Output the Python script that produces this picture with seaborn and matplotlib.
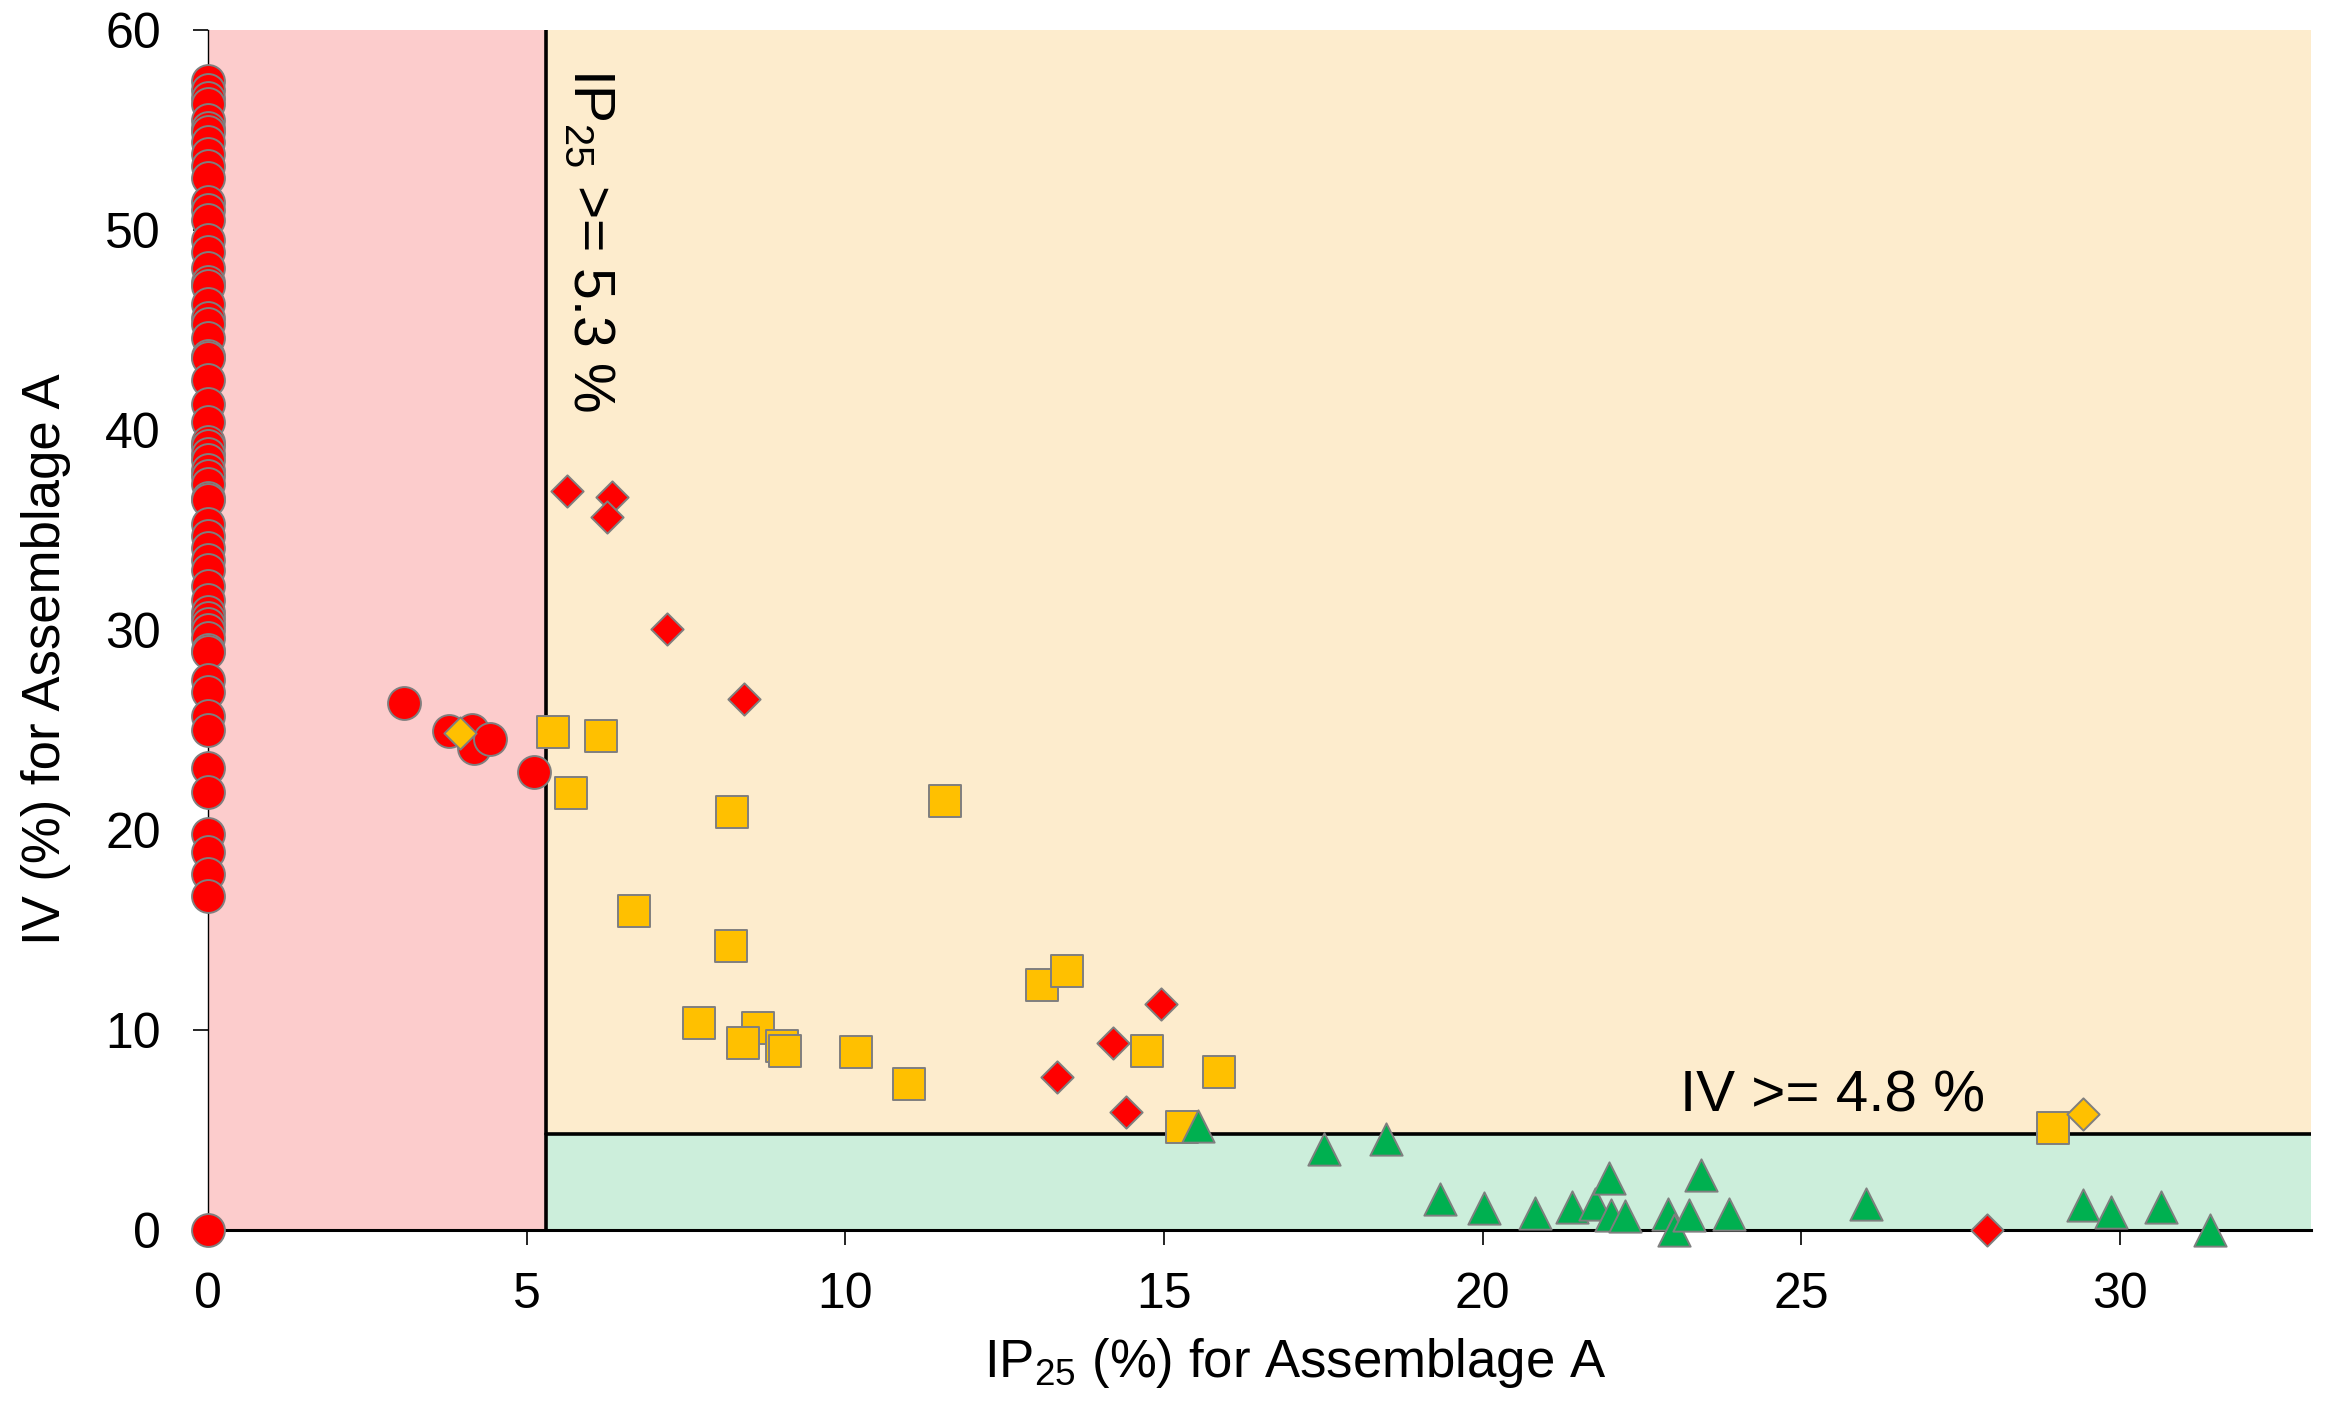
import matplotlib
matplotlib.use("Agg")
import matplotlib.pyplot as plt
import seaborn as sns
import pandas as pd

# Limites de classificação
ip25_cut = 5.3
iv_cut = 4.8

# Círculos vermelhos (IP25 = 0 na maioria)
circle_x = [0.0] * 62 + [3.08, 3.78, 4.15, 4.18, 4.43, 5.12]
circle_y = [57.45, 57.0, 56.6, 56.3, 55.5, 55.1, 54.9, 54.4, 53.8, 53.2,
            52.6, 51.4, 51.0, 50.5, 49.5, 48.9, 48.1, 47.4, 47.2, 46.3,
            45.6, 45.3, 44.6, 43.7, 43.6, 42.5, 41.3, 40.4, 39.4, 39.2,
            38.8, 38.5, 38.0, 37.7, 37.3, 36.6, 36.5, 35.3, 34.7, 34.1,
            33.5, 33.0, 32.2, 31.5, 30.9, 30.6, 30.3, 30.0, 29.6, 29.0,
            28.9, 27.5, 26.9, 25.7, 25.0, 23.1, 21.9, 19.8, 18.9, 17.8,
            16.7, 0.0,
            26.35, 24.95, 25.0, 24.1, 24.55, 22.9]

# Quadrados amarelos
square_x = [5.42, 6.16, 5.70, 8.23, 11.57, 6.69, 8.21, 7.70, 8.63, 8.40,
            9.0, 9.06, 10.17, 11.0, 13.08, 13.48, 14.73, 15.87, 15.29, 28.95]
square_y = [24.9, 24.7, 21.85, 20.9, 21.45, 15.95, 14.2, 10.37, 10.1, 9.37,
            9.2, 8.97, 8.92, 7.3, 12.27, 12.97, 8.97, 7.9, 5.17, 5.1]

# Losangos vermelhos
red_diamond_x = [5.63, 6.34, 6.26, 7.21, 8.41, 14.96, 14.2, 13.32, 14.4, 27.91]
red_diamond_y = [36.97, 36.65, 35.65, 30.05, 26.55, 11.3, 9.35, 7.67, 5.92, 0.0]

# Losangos amarelos
gold_diamond_x = [3.95, 29.42]
gold_diamond_y = [24.85, 5.8]

# Triângulos verdes
triangle_x = [15.53, 17.52, 18.49, 19.34, 20.02, 20.83, 21.41, 21.77, 21.98, 22.02,
              22.24, 22.91, 23.01, 23.24, 23.43, 23.86, 26.01, 29.43, 29.86, 30.64,
              31.42]
triangle_y = [5.2, 4.05, 4.55, 1.55, 1.1, 0.85, 1.15, 1.3, 2.6, 0.75,
              0.7, 0.8, 0.0, 0.77, 2.75, 0.8, 1.3, 1.25, 0.9, 1.17,
              0.0]

x_ticks = [0, 5, 10, 15, 20, 25, 30]
y_ticks = [0, 10, 20, 30, 40, 50, 60]

sns.set_style("ticks")
plt.rcParams['font.family'] = ['Liberation Sans', 'DejaVu Sans']
plt.rcParams['mathtext.fontset'] = 'custom'
plt.rcParams['mathtext.rm'] = 'Liberation Sans'
plt.rcParams['mathtext.it'] = 'Liberation Sans:italic'
plt.rcParams['text.color'] = 'black'
plt.rcParams['axes.labelcolor'] = 'black'

fig = plt.figure(figsize=(23.27, 14.02), dpi=100)
ax = fig.add_axes([0.0894, 0.1227, 0.9037, 0.8559])
ax.set_xlim(0, 33)
ax.set_ylim(0, 60)

# Regiões de fundo
ax.axvspan(0, ip25_cut, color='#FCCCCC', lw=0, zorder=0)
ax.fill_between([ip25_cut, 33], iv_cut, 60, color='#FDECCD', lw=0, zorder=0)
ax.fill_between([ip25_cut, 33], 0, iv_cut, color='#CCEEDB', lw=0, zorder=0)
ax.axvline(ip25_cut, color='black', lw=2.6, zorder=1)
ax.plot([ip25_cut, 33], [iv_cut, iv_cut], color='black', lw=2.6, zorder=1)

groups = [
    (circle_x, circle_y, 'o', '#FF0000', 560),
    (square_x, square_y, 's', '#FFC000', 540),
    (red_diamond_x, red_diamond_y, 'D', '#FF0000', 270),
    (gold_diamond_x, gold_diamond_y, 'D', '#FFC000', 270),
    (triangle_x, triangle_y, '^', '#00B050', 540),
]
for gx, gy, mk, col, size in groups:
    df = pd.DataFrame({'ip25': gx, 'iv': gy})
    sns.scatterplot(data=df, x='ip25', y='iv', marker=mk, color=col, s=size,
                    edgecolor='#7F7F7F', linewidth=1.4, clip_on=False,
                    zorder=3, ax=ax, legend=False)

# Textos dos limites
ax.text(5.98, 58.1, r'IP$_{\mathregular{25}}$ >= 5.3 %', rotation=270,
        ha='center', va='top', fontsize=41, zorder=4)
ax.text(23.1, 5.9, 'IV >= 4.8 %', ha='left', va='baseline', fontsize=42, zorder=4)

ax.set_xticks(x_ticks)
ax.set_yticks(y_ticks)
ax.tick_params(axis='both', direction='out', length=11, width=1.2, labelsize=36,
               colors='black')
ax.tick_params(axis='x', pad=19)
ax.tick_params(axis='y', pad=23)

for side in ['top', 'right']:
    ax.spines[side].set_visible(False)
ax.spines['left'].set_linewidth(1.0)
ax.spines['bottom'].set_linewidth(2.2)
ax.spines['left'].set_color('black')
ax.spines['bottom'].set_color('black')

ax.set_xlabel(r'IP$_{\mathregular{25}}$ (%) for Assemblage A', fontsize=38)
ax.set_ylabel('IV (%) for Assemblage A', fontsize=38)
ax.xaxis.set_label_coords(0.517, -0.088)
ax.yaxis.set_label_coords(-0.065, 0.476)

fig.savefig('out.png', dpi=100)
